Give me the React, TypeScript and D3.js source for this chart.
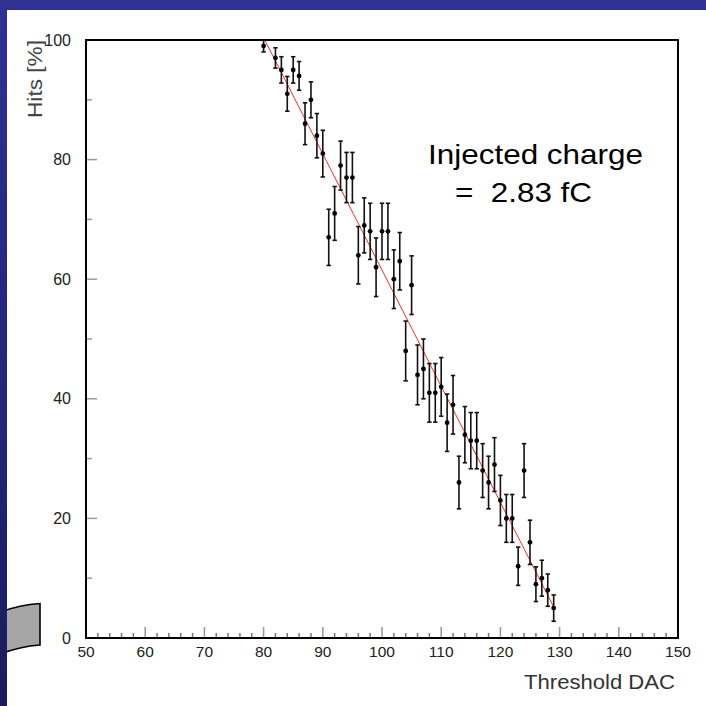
import React from "react";
import * as d3 from "d3";

const dac = [80, 82, 83, 84, 85, 86, 87, 88, 89, 90, 91, 92, 93, 94, 95, 96, 97, 98, 99, 100, 101, 102, 103, 104, 105, 106, 107, 108, 109, 110, 111, 112, 113, 114, 115, 116, 117, 118, 119, 120, 121, 122, 123, 124, 125, 126, 127, 128, 129];
const hits = [99, 97, 95, 91, 95, 94, 86, 90, 84, 81, 67, 71, 79, 77, 77, 64, 69, 68, 62, 68, 68, 60, 63, 48, 59, 44, 45, 41, 41, 42, 36, 39, 26, 34, 33, 33, 28, 26, 29, 23, 20, 20, 12, 28, 16, 9, 10, 8, 5];
const errs = [1.0, 1.7, 2.2, 2.9, 2.2, 2.4, 3.5, 3.0, 3.7, 3.9, 4.7, 4.5, 4.1, 4.2, 4.2, 4.8, 4.6, 4.7, 4.9, 4.7, 4.7, 4.9, 4.8, 5.0, 4.9, 5.0, 5.0, 4.9, 4.9, 4.9, 4.8, 4.9, 4.4, 4.7, 4.7, 4.7, 4.5, 4.4, 4.5, 4.2, 4.0, 4.0, 3.2, 4.5, 3.7, 2.9, 3.0, 2.7, 2.2];
const fitX = [80.2, 129];
const fitY = [100, 5.2];
const xTicks = [50, 60, 70, 80, 90, 100, 110, 120, 130, 140, 150];
const yTicks = [0, 20, 40, 60, 80, 100];
const xLabel = "Threshold DAC";
const yLabel = "Hits [%]";
const note1 = "Injected charge";
const note2 = "=  2.83 fC";

const W = 706, H = 706;
const L = 86, R = 678, T = 40, B = 638;
const FONT = "'Liberation Sans', Arial, Helvetica, sans-serif";

export default function App() {
  const x = d3.scaleLinear().domain([50, 150]).range([L, R]);
  const y = d3.scaleLinear().domain([0, 100]).range([B, T]);
  const xMinor = d3.range(50, 151, 2).filter((v) => v % 10 !== 0);
  const yMinor = d3.range(10, 100, 20);
  const line = d3.line<number>().x((d, i) => x(fitX[i])).y((d, i) => y(fitY[i]));
  const shape = "M0,612 Q20,605 40,603.5 L40,645 Q20,646.5 0,654 Z";
  return (
    <svg width={W} height={H} style={{ position: "absolute", left: 0, top: 0 }} fontFamily={FONT}>
      <defs>
        <linearGradient id="lbar" x1="0" y1="0" x2="0" y2="1">
          <stop offset="0" stopColor="#2f3193" />
          <stop offset="1" stopColor="#1b1b5c" />
        </linearGradient>
      </defs>
      <rect x={0} y={0} width={W} height={H} fill="#ffffff" />
      <path d={shape} fill="#a6a6a6" stroke="#000" strokeWidth={1.6} />
      <rect x={0} y={0} width={W} height={10} fill="#2f3193" />
      <rect x={0} y={0} width={7} height={H} fill="url(#lbar)" />

      {xTicks.map((v) => (
        <line key={"xt" + v} x1={x(v)} x2={x(v)} y1={B} y2={B - 11} stroke="#999" strokeWidth={1.5} />
      ))}
      {xMinor.map((v) => (
        <line key={"xm" + v} x1={x(v)} x2={x(v)} y1={B} y2={B - 5} stroke="#777" strokeWidth={1.5} />
      ))}
      {yTicks.map((v) => (
        <line key={"yt" + v} x1={L} x2={L + 11} y1={y(v)} y2={y(v)} stroke="#999" strokeWidth={1.5} />
      ))}
      {yMinor.map((v) => (
        <line key={"ym" + v} x1={L} x2={L + 6} y1={y(v)} y2={y(v)} stroke="#999" strokeWidth={1.5} />
      ))}

      <path d={line(fitX) || ""} fill="none" stroke="#ff2a2a" strokeWidth={1} />

      {dac.map((d, i) => {
        const cx = x(d);
        const y1 = y(Math.min(100, hits[i] + errs[i]));
        const y0 = y(hits[i] - errs[i]);
        return (
          <g key={"p" + d} stroke="#111" strokeWidth={1.6}>
            <line x1={cx} x2={cx} y1={y1} y2={y0} />
            <line x1={cx - 2.2} x2={cx + 2.2} y1={y1} y2={y1} />
            <line x1={cx - 2.2} x2={cx + 2.2} y1={y0} y2={y0} />
            <circle cx={cx} cy={y(hits[i])} r={2.4} fill="#000" stroke="none" />
          </g>
        );
      })}

      <rect x={L} y={T} width={R - L} height={B - T} fill="none" stroke="#000" strokeWidth={2} />

      {xTicks.map((v) => (
        <text key={"xl" + v} x={x(v)} y={657} textAnchor="middle" fontSize={15.5} fill="#222">{v}</text>
      ))}
      {yTicks.map((v) => (
        <text key={"yl" + v} x={71} y={y(v) + 5.5} textAnchor="end" fontSize={16} fill="#222">{v}</text>
      ))}

      <text x={675} y={689} textAnchor="end" fontSize={20} fill="#333" textLength={151} lengthAdjust="spacingAndGlyphs">{xLabel}</text>
      <text transform="translate(42,40) rotate(-90)" textAnchor="end" fontSize={20} fill="#444" textLength={78} lengthAdjust="spacingAndGlyphs">{yLabel}</text>

      <text x={428} y={163.5} fontSize={28} fill="#000" textLength={215} lengthAdjust="spacingAndGlyphs">{note1}</text>
      <text x={455} y={201.5} fontSize={28} fill="#000" textLength={137} lengthAdjust="spacingAndGlyphs" xmlSpace="preserve">{note2}</text>
    </svg>
  );
}
